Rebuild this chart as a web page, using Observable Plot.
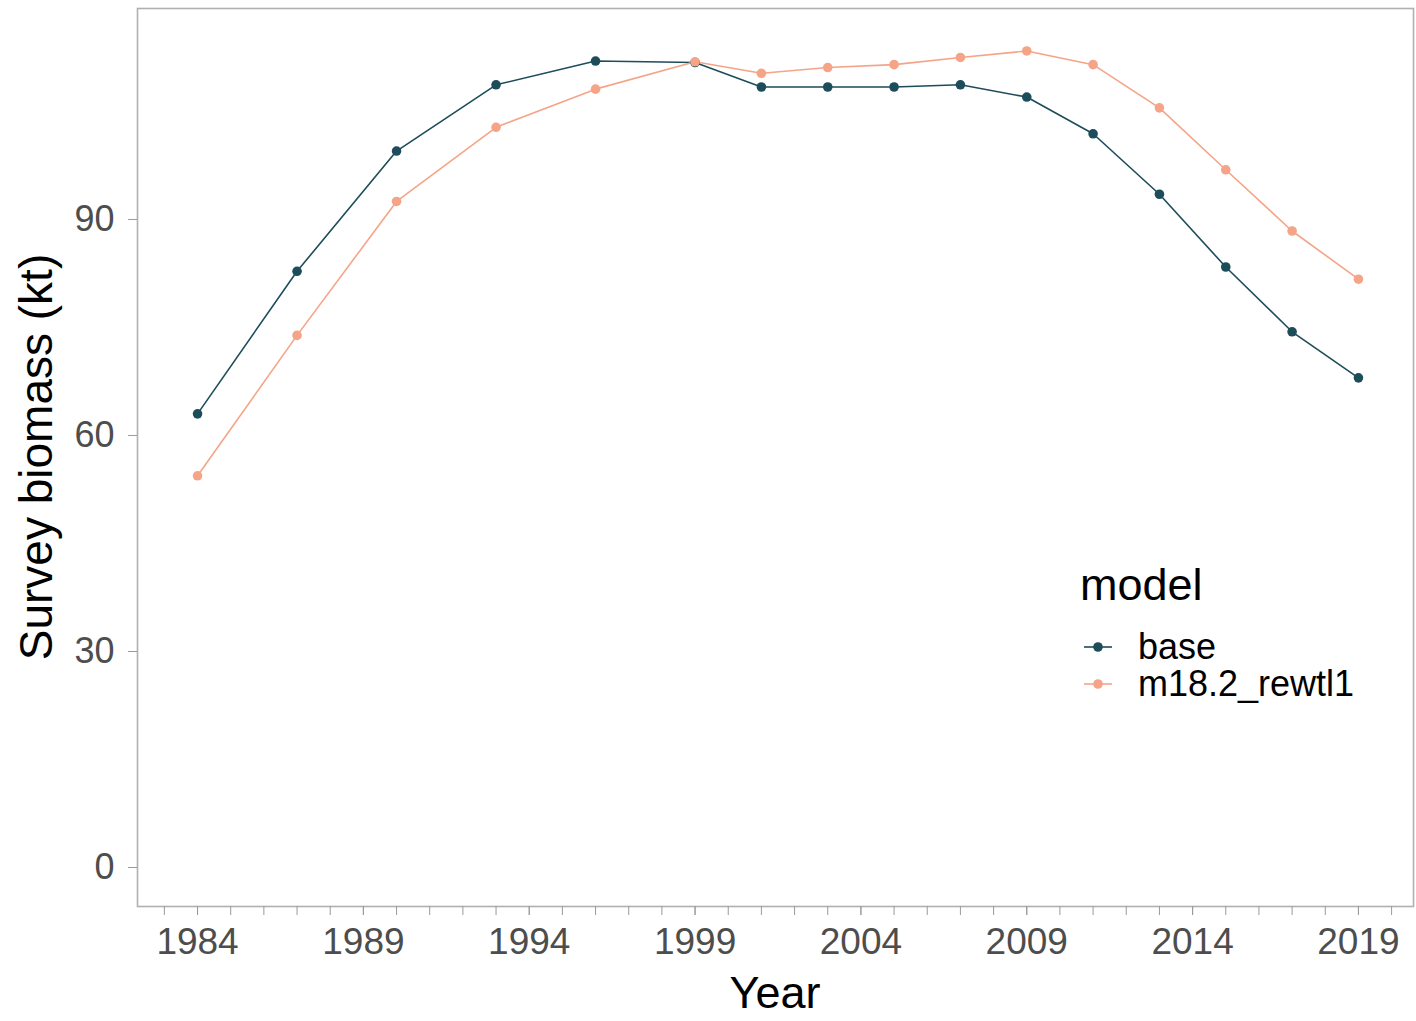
<!DOCTYPE html>
<html>
<head>
<meta charset="utf-8">
<script src="https://cdn.jsdelivr.net/npm/d3@7"></script>
<script src="https://cdn.jsdelivr.net/npm/@observablehq/plot@0.6"></script>
<style>
  html, body { margin: 0; padding: 0; background: #fff; }
  #wrap { position: relative; width: 1416px; height: 1021px; font-family: "Liberation Sans", Arial, sans-serif; }
  #legend { position: absolute; left: 1080px; top: 560px; color: #000; }
  #legend .title { font-size: 45px; line-height: 50px; margin-bottom: 18px; }
  #legend .item { display: flex; align-items: center; height: 37px; font-size: 36px; }
  #legend svg { margin-right: 22px; }
</style>
</head>
<body>
<div id="wrap"></div>
<script>
const years = [1984, 1987, 1990, 1993, 1996, 1999, 2001, 2003, 2005, 2007, 2009, 2011, 2013, 2015, 2017, 2019];
const baseValues = [63.0, 82.8, 99.5, 108.7, 112.0, 111.8, 108.4, 108.4, 108.4, 108.7, 107.0, 101.9, 93.5, 83.4, 74.4, 68.0];
const rewtValues = [54.4, 73.9, 92.5, 102.8, 108.1, 111.9, 110.3, 111.1, 111.5, 112.5, 113.4, 111.5, 105.5, 96.9, 88.4, 81.7];
const models = ["base", "m18.2_rewtl1"];
const colors = ["#1d4c5b", "#f5a488"];
const yTicks = [0, 30, 60, 90];
const xLabelYears = [1984, 1989, 1994, 1999, 2004, 2009, 2014, 2019];
const xTickYears = d3.range(1983, 2021);

const data = [
  ...years.map((y, i) => ({year: y, value: baseValues[i], model: models[0]})),
  ...years.map((y, i) => ({year: y, value: rewtValues[i], model: models[1]}))
];

const W = 1416, H = 1021;
const mL = 137, mR = 3, mT = 8, mB = 115;

const chart = Plot.plot({
  width: W, height: H,
  marginLeft: mL, marginRight: mR, marginTop: mT, marginBottom: mB,
  style: {fontFamily: "'Liberation Sans', Arial, sans-serif", background: "#fff"},
  x: {domain: [1982.19, 2020.66]},
  y: {domain: [-5.42, 119.3]},
  color: {domain: models, range: colors},
  marks: [
    Plot.frame({stroke: "#b0b0b0", strokeWidth: 1.6}),
    Plot.axisY({ticks: yTicks, tickSize: 9, tickPadding: 14, fontSize: 36, color: "#4d4d4d", stroke: "#9a9a9a", label: null}),
    Plot.axisX({ticks: xTickYears, tickSize: 9, tickFormat: () => "", stroke: "#9a9a9a", label: null}),
    Plot.axisX({ticks: xLabelYears, tickSize: 9, tickPadding: 12, tickFormat: "d", fontSize: 37, color: "#4d4d4d", stroke: "#9a9a9a", label: null}),
    Plot.line(data, {x: "year", y: "value", z: "model", stroke: "model", strokeWidth: 1.6}),
    Plot.dot(data, {x: "year", y: "value", fill: "model", r: 4.8})
  ]
});

const wrap = document.getElementById("wrap");
wrap.appendChild(chart);

const svg = d3.select(chart);
const cx = (mL + (W - mR)) / 2;
svg.append("text").attr("x", cx).attr("y", 1008).attr("text-anchor", "middle")
  .attr("font-size", 45).attr("fill", "#000").text("Year");
const cy = (mT + (H - mB)) / 2;
svg.append("text").attr("transform", `translate(52,${cy}) rotate(-90)`).attr("text-anchor", "middle")
  .attr("font-size", 46).attr("fill", "#000").text("Survey biomass (kt)");

// legend
const legend = document.createElement("div");
legend.id = "legend";
const t = document.createElement("div");
t.className = "title"; t.textContent = "model";
legend.appendChild(t);
models.forEach((m, i) => {
  const item = document.createElement("div");
  item.className = "item";
  const s = d3.create("svg").attr("width", 36).attr("height", 20);
  s.append("line").attr("x1", 4).attr("x2", 32).attr("y1", 10).attr("y2", 10).attr("stroke", colors[i]).attr("stroke-width", 1.6);
  s.append("circle").attr("cx", 18).attr("cy", 10).attr("r", 4.8).attr("fill", colors[i]);
  item.appendChild(s.node());
  const lab = document.createElement("span"); lab.textContent = m;
  item.appendChild(lab);
  legend.appendChild(item);
});
wrap.appendChild(legend);
</script>
</body>
</html>
